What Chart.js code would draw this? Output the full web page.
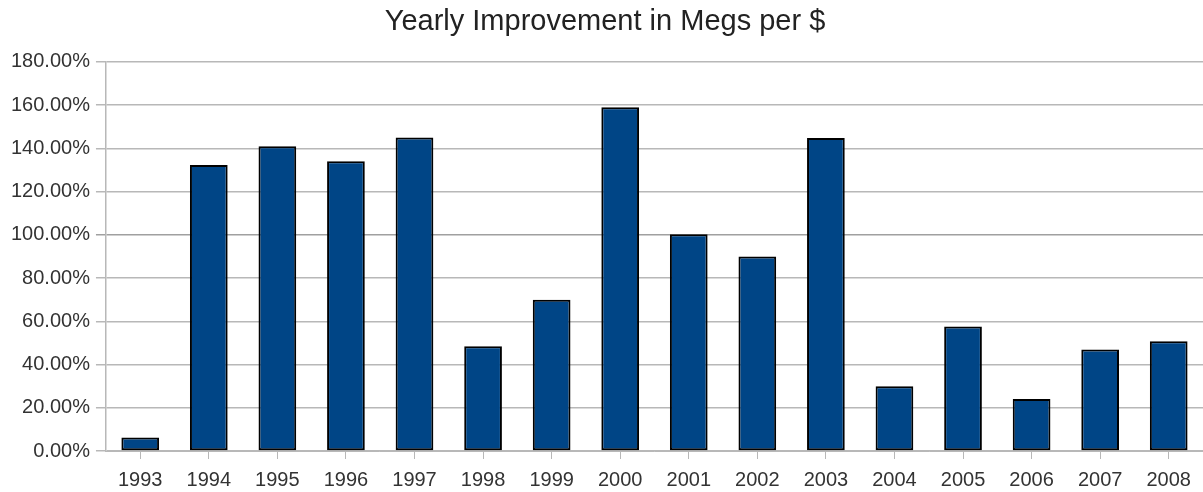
<!DOCTYPE html>
<html>
<head>
<meta charset="utf-8">
<script src="https://cdn.jsdelivr.net/npm/chart.js@4/dist/chart.umd.min.js"></script>
<style>
  html, body { margin: 0; padding: 0; background: #fff; }
  #wrap { width: 1203px; height: 492px; }
</style>
</head>
<body>
<div id="wrap"><canvas id="chart"></canvas></div>
<script>
// values
const years = ["1993","1994","1995","1996","1997","1998","1999","2000",
               "2001","2002","2003","2004","2005","2006","2007","2008"];
const improvement = [6.3, 132.3, 141, 134, 145, 48.4, 70, 159,
                     100.3, 89.9, 144.8, 30, 57.6, 24, 46.9, 50.8];
const yTicks = [0, 20, 40, 60, 80, 100, 120, 140, 160, 180];

const gridGray = "#b8b8b8";
const labelFont = { family: "Liberation Sans", size: 20 };

new Chart(document.getElementById("chart"), {
    type: "bar",
    data: {
        labels: years,
        datasets: [{
            label: "Yearly Improvement",
            data: improvement,
            backgroundColor: "#004586",
            borderColor: "#000",
            borderWidth: 2,
            borderSkipped: false,
            categoryPercentage: 1,
            barPercentage: 0.55
        }]
    },
    options: {
        responsive: true,
        maintainAspectRatio: false,
        animation: false,
        layout: { padding: { left: 5, right: -2, top: 0, bottom: -9 } },
        plugins: {
            legend: { display: false },
            tooltip: { enabled: false },
            title: {
                display: true,
                text: "Yearly Improvement in Megs per $",
                color: "#222",
                font: { family: "Liberation Sans", size: 29, weight: "normal" },
                padding: { top: 5, bottom: 22 }
            }
        },
        scales: {
            x: {
                grid: {
                    display: true,
                    drawOnChartArea: false,
                    offset: false,
                    tickLength: 8,
                    color: gridGray
                },
                border: { display: true, color: gridGray },
                ticks: {
                    color: "#333",
                    padding: 9,
                    maxRotation: 0,
                    font: labelFont
                }
            },
            y: {
                min: 0,
                max: 180,
                afterBuildTicks: (axis) => {
                    axis.ticks = yTicks.map(v => ({ value: v }));
                },
                grid: {
                    tickLength: 10,
                    lineWidth: 1.5,
                    color: (ctx) => ctx.tick && ctx.tick.value === 100 ? "#a0a0a0" : gridGray
                },
                border: { display: true, color: gridGray, width: 1.5 },
                ticks: {
                    color: "#333",
                    padding: 6,
                    font: labelFont,
                    callback: (v) => v.toFixed(2) + "%"
                }
            }
        }
    }
});
</script>
</body>
</html>
